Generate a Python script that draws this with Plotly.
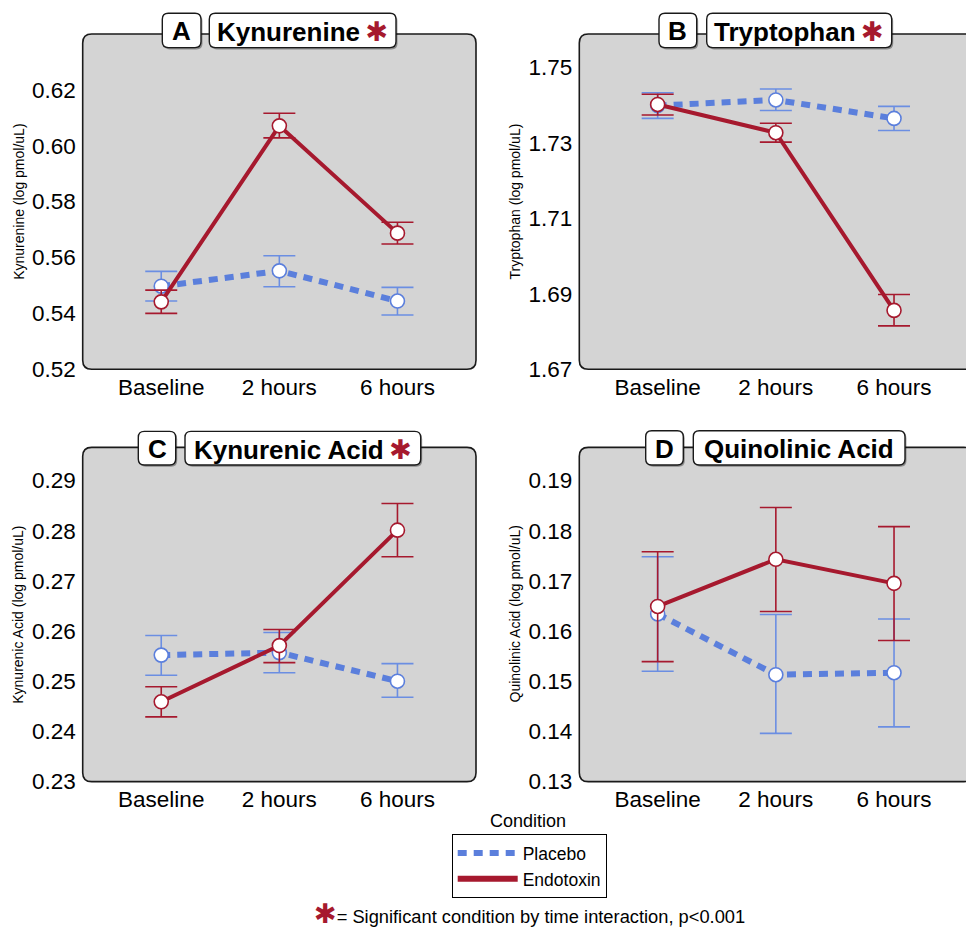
import plotly.graph_objects as go

# ---------------- data ----------------
categories = ["Baseline", "2 hours", "6 hours"]

kyn_placebo = [0.5497, 0.5552, 0.5444]
kyn_placebo_lo = [0.5444, 0.5495, 0.5394]
kyn_placebo_hi = [0.5550, 0.5606, 0.5493]
kyn_endo = [0.5441, 0.6071, 0.5687]
kyn_endo_lo = [0.5400, 0.6028, 0.5648]
kyn_endo_hi = [0.5483, 0.6116, 0.5726]

trp_placebo = [1.7399, 1.7414, 1.7365]
trp_placebo_lo = [1.7365, 1.7386, 1.7333]
trp_placebo_hi = [1.7433, 1.7443, 1.7397]
trp_endo = [1.7402, 1.7327, 1.6856]
trp_endo_lo = [1.7374, 1.7302, 1.6815]
trp_endo_hi = [1.7429, 1.7352, 1.6898]

kyna_placebo = [0.2552, 0.2557, 0.2500]
kyna_placebo_lo = [0.2512, 0.2517, 0.2468]
kyna_placebo_hi = [0.2591, 0.2597, 0.2535]
kyna_endo = [0.2459, 0.2571, 0.2801]
kyna_endo_lo = [0.2429, 0.2537, 0.2748]
kyna_endo_hi = [0.2489, 0.2603, 0.2854]

quin_placebo = [0.1634, 0.1513, 0.1517]
quin_placebo_lo = [0.1520, 0.1396, 0.1409]
quin_placebo_hi = [0.1748, 0.1633, 0.1624]
quin_endo = [0.1649, 0.1743, 0.1695]
quin_endo_lo = [0.1539, 0.1639, 0.1581]
quin_endo_hi = [0.1758, 0.1846, 0.1808]

kyn_ticks = [0.52, 0.54, 0.56, 0.58, 0.60, 0.62]
trp_ticks = [1.67, 1.69, 1.71, 1.73, 1.75]
kyna_ticks = [0.23, 0.24, 0.25, 0.26, 0.27, 0.28, 0.29]
quin_ticks = [0.13, 0.14, 0.15, 0.16, 0.17, 0.18, 0.19]

# ---------------- style ----------------
W, H = 966, 928          # reference coordinate frame
HF = 939                 # figure height (compensates the capture's vertical fit)
BLUE = "#5b7fdc"
BLUE_ERR = "#6b8ee2"
RED = "#a6192e"
FONT = "Liberation Sans, Arial, sans-serif"

def px(x):
    return x / W

def py(y):
    return 1 - y / H

def rrect(x0, y0, x1, y1, r):
    return (f"M {px(x0 + r)},{py(y0)} L {px(x1 - r)},{py(y0)} "
            f"Q {px(x1)},{py(y0)} {px(x1)},{py(y0 + r)} "
            f"L {px(x1)},{py(y1 - r)} Q {px(x1)},{py(y1)} {px(x1 - r)},{py(y1)} "
            f"L {px(x0 + r)},{py(y1)} Q {px(x0)},{py(y1)} {px(x0)},{py(y1 - r)} "
            f"L {px(x0)},{py(y0 + r)} Q {px(x0)},{py(y0)} {px(x0 + r)},{py(y0)} Z")

xs = list(range(len(categories)))

panels = [
    dict(ax="", name="Kynurenine", letter="A", star=True,
         p=(kyn_placebo, kyn_placebo_lo, kyn_placebo_hi),
         e=(kyn_endo, kyn_endo_lo, kyn_endo_hi),
         ticks=kyn_ticks, yr=[0.52, 0.64],
         box=(82.7, 34, 476, 370), xr=[-0.665, 2.665],
         lbox=(162.3, 13.3, 201, 47.7), tbox=(209.3, 13.3, 396, 47.7),
         ytitle="Kynurenine (log pmol/uL)", ytx=18.3),
    dict(ax="2", name="Tryptophan", letter="B", star=True,
         p=(trp_placebo, trp_placebo_lo, trp_placebo_hi),
         e=(trp_endo, trp_endo_lo, trp_endo_hi),
         ticks=trp_ticks, yr=[1.67, 1.7589],
         box=(579.3, 34, 973, 370), xr=[-0.663, 2.609],
         lbox=(659, 13.3, 696.7, 47.7), tbox=(706.7, 13.3, 891.7, 47.7),
         ytitle="Tryptophan (log pmol/uL)", ytx=515),
    dict(ax="3", name="Kynurenic Acid", letter="C", star=True,
         p=(kyna_placebo, kyna_placebo_lo, kyna_placebo_hi),
         e=(kyna_endo, kyna_endo_lo, kyna_endo_hi),
         ticks=kyna_ticks, yr=[0.23, 0.2966],
         box=(82.7, 448.3, 476, 783.3), xr=[-0.665, 2.665],
         lbox=(138.3, 432.3, 175.7, 466), tbox=(185, 432.3, 420.7, 466),
         ytitle="Kynurenic Acid (log pmol/uL)", ytx=18.3),
    dict(ax="4", name="Quinolinic Acid", letter="D", star=False,
         p=(quin_placebo, quin_placebo_lo, quin_placebo_hi),
         e=(quin_endo, quin_endo_lo, quin_endo_hi),
         ticks=quin_ticks, yr=[0.13, 0.1966],
         box=(579.3, 448.3, 973, 783.3), xr=[-0.663, 2.609],
         lbox=(645.7, 431.7, 683.3, 466), tbox=(693.3, 431.7, 905, 466),
         ytitle="Quinolinic Acid (log pmol/uL)", ytx=515),
]

fig = go.Figure()
shapes = []
annotations = []
layout_axes = {}

for pn in panels:
    a = pn["ax"]
    xa, ya = "x" + a, "y" + a
    for (vals, lo, hi), color, ecolor, dash, lw in [
        (pn["p"], BLUE, BLUE_ERR, "9px,7px", 6),
        (pn["e"], RED, RED, "solid", 4),
    ]:
        fig.add_trace(go.Scatter(
            x=xs, y=vals, xaxis=xa, yaxis=ya, mode="lines+markers",
            line=dict(color=color, width=lw, dash=dash),
            marker=dict(size=14, color="white", line=dict(color=color, width=1.6)),
            error_y=dict(type="data", symmetric=False,
                         array=[h - v for h, v in zip(hi, vals)],
                         arrayminus=[v - l for v, l in zip(vals, lo)],
                         color=ecolor, thickness=1.6, width=16),
            showlegend=False, hoverinfo="skip"))

    x0, y0, x1, y1 = pn["box"]
    xdom = [px(x0), min(px(x1), 1.0)]
    ydom = [py(y1), py(y0)]
    xkey = "xaxis" + a
    ykey = "yaxis" + a
    layout_axes[xkey] = dict(domain=xdom, range=pn["xr"], anchor=ya,
                             tickvals=xs, ticktext=categories,
                             showgrid=False, zeroline=False, showline=False,
                             ticks="", ticklabelstandoff=2,
                             tickfont=dict(size=22.5, color="black", family=FONT),
                             fixedrange=True)
    layout_axes[ykey] = dict(domain=ydom, range=pn["yr"], anchor=xa,
                             tickvals=pn["ticks"],
                             ticktext=[f"{t:.2f}" for t in pn["ticks"]],
                             showgrid=False, zeroline=False, showline=False,
                             ticks="", ticklabelstandoff=6,
                             tickfont=dict(size=22.5, color="black", family=FONT),
                             fixedrange=True)

    # panel background with rounded corners
    shapes.append(dict(type="path", xref="paper", yref="paper", layer="below",
                       path=rrect(x0, y0, x1, y1, 9),
                       fillcolor="#d4d4d4", line=dict(color="#1a1a1a", width=1.6)))

    # title boxes (shadow + box)
    for bx in (pn["lbox"], pn["tbox"]):
        bx0, by0, bx1, by1 = bx
        shapes.append(dict(type="path", xref="paper", yref="paper", layer="above",
                           path=rrect(bx0 + 1.5, by0 + 1.8, bx1 + 1.5, by1 + 1.8, 6),
                           fillcolor="rgba(0,0,0,0.35)", line=dict(width=0)))
        shapes.append(dict(type="path", xref="paper", yref="paper", layer="above",
                           path=rrect(bx0, by0, bx1, by1, 6),
                           fillcolor="white", line=dict(color="#1a1a1a", width=1.4)))

    lx0, ly0, lx1, ly1 = pn["lbox"]
    annotations.append(dict(x=px((lx0 + lx1) / 2), y=py((ly0 + ly1) / 2 + 1),
                            xref="paper", yref="paper", showarrow=False,
                            text=f"<b>{pn['letter']}</b>",
                            font=dict(size=26, color="black", family=FONT),
                            xanchor="center", yanchor="middle"))
    tx0, ty0, tx1, ty1 = pn["tbox"]
    ttext = f"<b>{pn['name']}</b>"
    if pn["star"]:
        ttext += f"<span style='color:{RED};font-size:27px;font-family:DejaVu Sans'>\u2009✱</span>"
    annotations.append(dict(x=px((tx0 + tx1) / 2), y=py((ty0 + ty1) / 2 + 1),
                            xref="paper", yref="paper", showarrow=False,
                            text=ttext,
                            font=dict(size=26, color="black", family=FONT),
                            xanchor="center", yanchor="middle"))
    # y-axis title
    annotations.append(dict(x=px(pn["ytx"]), y=py((y0 + y1) / 2),
                            xref="paper", yref="paper", showarrow=False,
                            text=pn["ytitle"], textangle=-90,
                            font=dict(size=14, color="black", family=FONT),
                            xanchor="center", yanchor="middle"))

# legend entries
fig.add_trace(go.Scatter(x=[None], y=[None], mode="lines", name="Placebo",
                         line=dict(color=BLUE, width=6, dash="9px,7px")))
fig.add_trace(go.Scatter(x=[None], y=[None], mode="lines", name="Endotoxin",
                         line=dict(color=RED, width=6)))

annotations.append(dict(x=px(528), y=py(823), xref="paper", yref="paper",
                        showarrow=False, text="Condition",
                        font=dict(size=18, color="black", family=FONT),
                        xanchor="center", yanchor="middle"))
annotations.append(dict(x=px(529), y=py(915), xref="paper", yref="paper",
                        showarrow=False,
                        text=f"<span style='color:{RED};font-size:27px;font-family:DejaVu Sans'>✱</span>"
                             "= Significant condition by time interaction, p&lt;0.001",
                        font=dict(size=18.3, color="black", family=FONT),
                        xanchor="center", yanchor="middle"))

fig.update_layout(
    width=W, height=HF, autosize=False,
    margin=dict(l=0, r=0, t=0, b=0),
    paper_bgcolor="white", plot_bgcolor="rgba(0,0,0,0)",
    font=dict(family=FONT, color="black"),
    shapes=shapes, annotations=annotations,
    legend=dict(x=px(451.7), y=py(836), xanchor="left", yanchor="top",
                bordercolor="black", borderwidth=1, bgcolor="white",
                font=dict(size=17.5, color="black", family=FONT),
                itemwidth=60, tracegroupgap=2),
    **layout_axes,
)

post = "document.documentElement.style.margin='0';document.body.style.margin='0';"

fig.write_html("out.html", config={"displayModeBar": False}, post_script=post)
